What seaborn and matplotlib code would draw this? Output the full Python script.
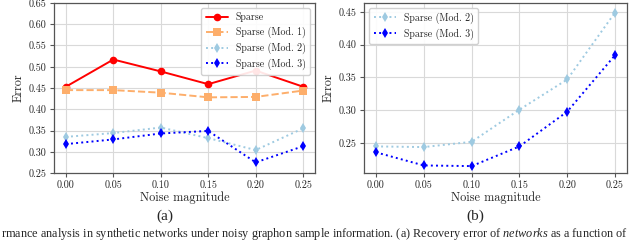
import matplotlib
matplotlib.use("Agg")
import matplotlib.pyplot as plt
import seaborn as sns
from matplotlib.ticker import FormatStrFormatter

noise = [0.00, 0.05, 0.10, 0.15, 0.20, 0.25]

# panel (a)
sparse = [0.453, 0.517, 0.489, 0.459, 0.491, 0.453]
mod1_a = [0.445, 0.445, 0.439, 0.428, 0.429, 0.444]
mod2_a = [0.335, 0.344, 0.357, 0.332, 0.304, 0.355]
mod3_a = [0.318, 0.329, 0.343, 0.349, 0.275, 0.313]

# panel (b)
mod2_b = [0.245, 0.244, 0.252, 0.301, 0.347, 0.449]
mod3_b = [0.236, 0.216, 0.215, 0.245, 0.298, 0.384]

labels = ["Sparse", "Sparse (Mod. 1)", "Sparse (Mod. 2)", "Sparse (Mod. 3)"]
caption = ("rmance analysis in synthetic networks under noisy graphon sample "
           "information. (a) Recovery error of $\\it{networks}$ as a function of")

sns.set_style("whitegrid", {
    "axes.edgecolor": "#555555",
    "grid.color": "#d9d9d9",
    "xtick.bottom": True,
    "ytick.left": True,
})
plt.rcParams["font.family"] = ["cmr10", "DejaVu Serif"]
plt.rcParams["mathtext.fontset"] = "custom"
plt.rcParams["mathtext.it"] = "Liberation Serif:italic"
plt.rcParams["mathtext.rm"] = "Liberation Serif"
plt.rcParams["axes.formatter.use_mathtext"] = True

fig = plt.figure(figsize=(6.4, 2.4), dpi=100)
ax1 = fig.add_axes([54 / 640, 1 - 173 / 240, 261 / 640, 170 / 240])
ax2 = fig.add_axes([364 / 640, 1 - 173 / 240, 263 / 640, 170 / 240])

styles = [
    dict(color="red", marker="o", linestyle="-"),
    dict(color="#fdae6b", marker="s", linestyle="--"),
    dict(color="#9ecae1", marker="d", linestyle=":"),
    dict(color="blue", marker="d", linestyle=":"),
]

for ys, lab, st in zip([sparse, mod1_a, mod2_a, mod3_a], labels, styles):
    sns.lineplot(x=noise, y=ys, ax=ax1, label=lab, markersize=5.5,
                 linewidth=1.4, markeredgewidth=0, **st)

for ys, lab, st in zip([mod2_b, mod3_b], labels[2:], styles[2:]):
    sns.lineplot(x=noise, y=ys, ax=ax2, label=lab, markersize=5.5,
                 linewidth=1.4, markeredgewidth=0, **st)

ax1.set_ylim(0.25, 0.65)
ax1.set_yticks([0.25, 0.30, 0.35, 0.40, 0.45, 0.50, 0.55, 0.60, 0.65])
ax2.set_yticks([0.25, 0.30, 0.35, 0.40, 0.45])
ax2.set_ylim(0.2045, 0.4635)

for ax in (ax1, ax2):
    ax.set_xticks(noise)
    ax.xaxis.set_major_formatter(FormatStrFormatter("%.2f"))
    ax.yaxis.set_major_formatter(FormatStrFormatter("%.2f"))
    ax.tick_params(labelsize=7.3, length=3, width=0.8, color="#555555", pad=2.5)
    ax.set_xlabel("Noise magnitude", fontsize=8.8, labelpad=1)
    ax.set_ylabel("Error", fontsize=8.8, labelpad=3)
    for s in ax.spines.values():
        s.set_linewidth(0.9)
    ax.legend(loc="upper right" if ax is ax1 else "upper left", fontsize=7.2,
              frameon=True, framealpha=0.9, edgecolor="#cccccc",
              handlelength=2.2, borderpad=0.45, labelspacing=0.45)

fig.text(165 / 640, 1 - 216 / 240, "(a)", ha="center", va="center",
         fontsize=11, family="Liberation Serif")
fig.text(475 / 640, 1 - 216 / 240, "(b)", ha="center", va="center",
         fontsize=11, family="Liberation Serif")
fig.text(1 / 640, 1 - 233.5 / 240, caption, ha="left", va="center",
         fontsize=8.8, family="Liberation Serif")

fig.savefig("out.png", dpi=100)
